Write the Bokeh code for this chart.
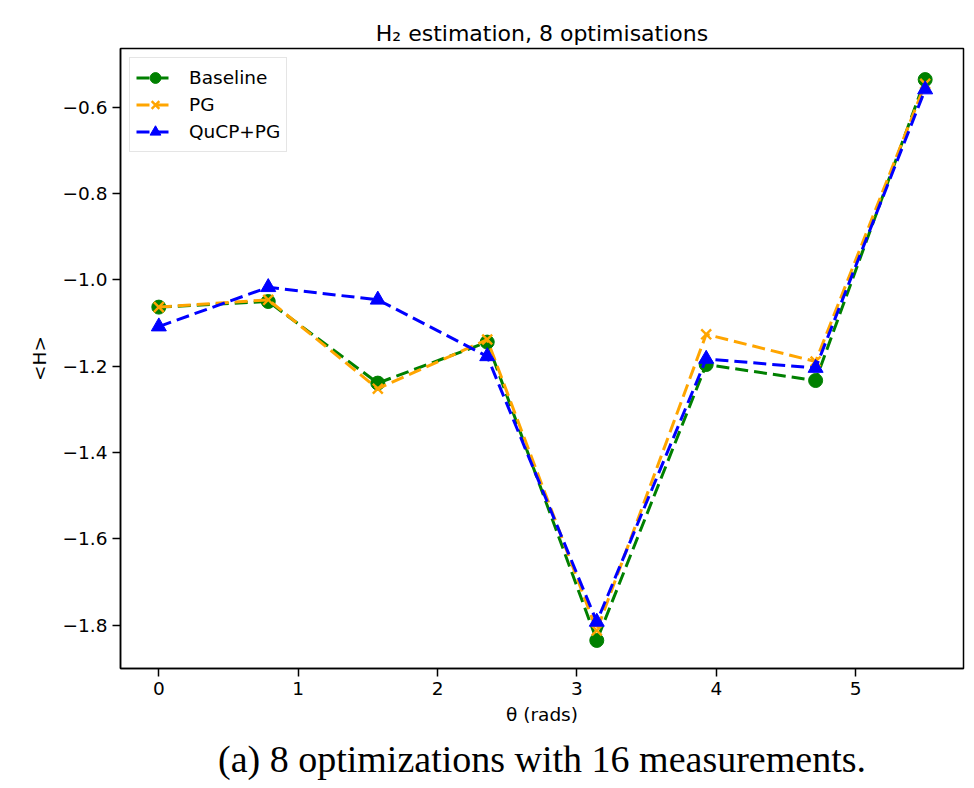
from bokeh.plotting import figure
from bokeh.models import Range1d, FixedTicker, CustomJSTickFormatter, Title, Legend, LegendItem
from bokeh.embed import file_html
from bokeh.resources import INLINE

# ---- data ----
theta = [0.0, 0.785, 1.571, 2.356, 3.142, 3.927, 4.712, 5.498]
baseline = [-1.063, -1.050, -1.239, -1.144, -1.835, -1.196, -1.233, -0.536]
pg = [-1.063, -1.046, -1.252, -1.138, -1.812, -1.126, -1.189, -0.546]
qucp_pg = [-1.108, -1.017, -1.046, -1.177, -1.792, -1.183, -1.204, -0.559]
x_ticks = [0, 1, 2, 3, 4, 5]
y_ticks = [-1.8, -1.6, -1.4, -1.2, -1.0, -0.8, -0.6]

FONT = "DejaVu Sans"
FS = "18.5px"

p = figure(width=970, height=788,
           x_range=Range1d(-0.275, 5.773), y_range=Range1d(-1.90, -0.464),
           output_backend="svg", toolbar_location=None,
           min_border_left=120, min_border_right=7,
           min_border_top=48, min_border_bottom=120)

p.title.text = "H\u2082 estimation, 8 optimisations"
p.title.align = "center"
p.title.text_font = FONT
p.title.text_font_size = "22px"
p.title.text_font_style = "normal"
p.title.text_color = "black"
p.title.standoff = 6

p.xgrid.visible = False
p.ygrid.visible = False
p.outline_line_color = "black"
p.outline_line_width = 1.5
p.outline_line_alpha = 1.0

for ax in (p.xaxis[0], p.yaxis[0]):
    ax.axis_line_color = "black"
    ax.axis_line_width = 1.5
    ax.major_tick_line_color = "black"
    ax.major_tick_line_width = 1.5
    ax.major_tick_out = 8
    ax.major_tick_in = 0
    ax.minor_tick_line_color = None
    ax.major_label_text_font = FONT
    ax.major_label_text_font_size = FS
    ax.major_label_text_color = "black"
    ax.axis_label_text_font = FONT
    ax.axis_label_text_font_size = FS
    ax.axis_label_text_font_style = "normal"
    ax.axis_label_text_color = "black"
    ax.major_label_standoff = 5

p.xaxis[0].ticker = FixedTicker(ticks=x_ticks)
p.yaxis[0].ticker = FixedTicker(ticks=y_ticks)
p.yaxis[0].formatter = CustomJSTickFormatter(
    code="return (tick < 0 ? '\\u2212' : '') + Math.abs(tick).toFixed(1);")
p.xaxis[0].axis_label = "\u03b8 (rads)"
p.yaxis[0].axis_label = "<H>"
p.xaxis[0].axis_label_standoff = 6
p.yaxis[0].axis_label_standoff = 10

dash = "13 6"
l1 = p.line(theta, baseline, line_color="green", line_width=3, line_dash=dash)
m1 = p.scatter(theta, baseline, marker="circle", size=14, fill_color="green", line_color="green")
l2 = p.line(theta, pg, line_color="orange", line_width=3, line_dash=dash)
m2 = p.scatter(theta, pg, marker="x", size=14, line_color="orange", line_width=2.4)
l3 = p.line(theta, qucp_pg, line_color="blue", line_width=3, line_dash=dash)
m3 = p.scatter(theta, qucp_pg, marker="triangle", size=15, fill_color="blue", line_color="blue")

legend = Legend(items=[
    LegendItem(label="Baseline", renderers=[l1, m1]),
    LegendItem(label="PG", renderers=[l2, m2]),
    LegendItem(label="QuCP+PG", renderers=[l3, m3]),
], location="top_left")
legend.label_text_font = FONT
legend.label_text_font_size = FS
legend.label_text_color = "black"
legend.glyph_width = 38
legend.glyph_height = 27
legend.label_height = 27
legend.label_standoff = 15
legend.spacing = 0
legend.padding = 6
legend.margin = 9
legend.border_line_color = "#cccccc"
legend.border_line_width = 1.5
legend.background_fill_alpha = 0.8
p.add_layout(legend, "center")

cap = Title(text="(a) 8 optimizations with 16 measurements.", align="center",
            text_font="Liberation Serif", text_font_size="38px",
            text_font_style="normal", text_color="black", standoff=16)
p.add_layout(cap, "below")

open("out.html", "w").write(file_html(p, INLINE))
